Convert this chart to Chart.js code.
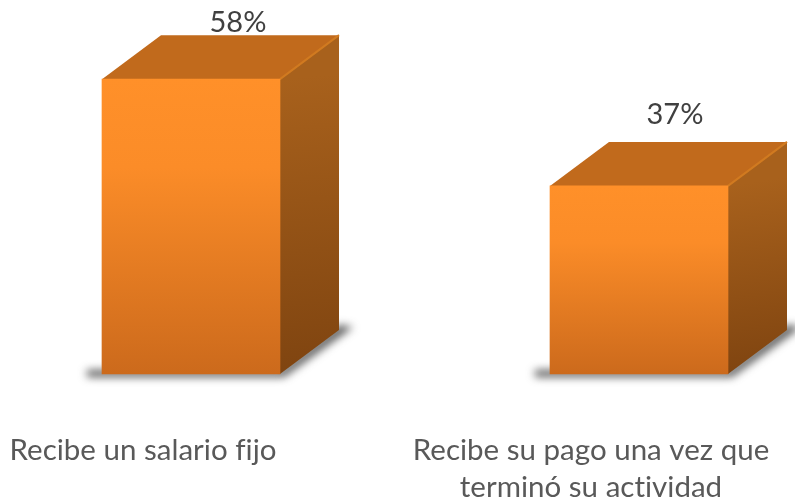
<!DOCTYPE html>
<html>
<head>
<meta charset="utf-8">
<script src="https://cdn.jsdelivr.net/npm/chart.js@4/dist/chart.umd.min.js"></script>
<style>
  html, body { margin: 0; padding: 0; background: #fff; }
  #wrap { width: 795px; height: 502px; }
</style>
</head>
<body>
<div id="wrap"><canvas id="myChart" width="795" height="502"></canvas></div>
<script>
const categories = [
  'Recibe un salario fijo',
  ['Recibe su pago una vez que', 'terminó su actividad'],
];
const percentages = [58, 37];
const percentLabels = ['58%', '37%'];

// look of the fake 3d box
const depthX = 59;
const depthY = -44;
const labelShift = [[47, -3], [36, -18]];

function frontGradient(context) {
  const area = context.chart.chartArea;
  if (!area || context.dataIndex === undefined) return '#ff9029';
  const top = context.chart.scales.y.getPixelForValue(percentages[context.dataIndex]);
  const g = context.chart.ctx.createLinearGradient(0, top, 0, area.bottom);
  g.addColorStop(0, '#ff9029');
  g.addColorStop(0.3, '#fb8c28');
  g.addColorStop(1, '#cc6a1c');
  return g;
}

const box3d = {
  id: 'box3d',
  beforeDraw(chart) {
    // letter spacing switches off the fi ligature
    chart.ctx.letterSpacing = '0.01px';
  },
  beforeDatasetsDraw(chart) {
    const ctx = chart.ctx;
    chart.getDatasetMeta(0).data.forEach(bar => {
      const left = bar.x - bar.width / 2;
      const right = bar.x + bar.width / 2;
      const top = bar.y;
      const bottom = bar.base;

      // shadow on the floor
      ctx.save();
      ctx.filter = 'blur(4px)';
      ctx.fillStyle = 'rgba(60,60,60,0.85)';
      ctx.beginPath();
      ctx.moveTo(left - 15, bottom - 4);
      ctx.lineTo(right, bottom - 4);
      ctx.lineTo(right + depthX, bottom + depthY - 5);
      ctx.lineTo(right + depthX + 14, bottom + depthY - 3);
      ctx.lineTo(right + 4, bottom + 3);
      ctx.lineTo(left - 15, bottom + 3);
      ctx.closePath();
      ctx.fill();
      ctx.restore();

      // top face
      ctx.fillStyle = '#c16a1c';
      ctx.beginPath();
      ctx.moveTo(left, top);
      ctx.lineTo(left + depthX, top + depthY);
      ctx.lineTo(right + depthX, top + depthY);
      ctx.lineTo(right, top);
      ctx.closePath();
      ctx.fill();

      // side face
      const side = ctx.createLinearGradient(right, top, right + depthX * 0.5, bottom);
      side.addColorStop(0, '#a8611c');
      side.addColorStop(1, '#7f4410');
      ctx.fillStyle = side;
      ctx.beginPath();
      ctx.moveTo(right, top);
      ctx.lineTo(right + depthX, top + depthY);
      ctx.lineTo(right + depthX, bottom + depthY);
      ctx.lineTo(right, bottom);
      ctx.closePath();
      ctx.fill();

      // light edge between top and side
      ctx.strokeStyle = '#d17a20';
      ctx.lineWidth = 2;
      ctx.beginPath();
      ctx.moveTo(right, top);
      ctx.lineTo(right + depthX, top + depthY);
      ctx.stroke();
    });
  },
  afterDatasetsDraw(chart) {
    const ctx = chart.ctx;
    ctx.save();
    ctx.font = '29px Lato';
    ctx.fillStyle = '#404040';
    ctx.textAlign = 'center';
    ctx.textBaseline = 'alphabetic';
    chart.getDatasetMeta(0).data.forEach((bar, i) => {
      const shift = labelShift[i];
      ctx.fillText(percentLabels[i], bar.x + shift[0], bar.y + depthY + shift[1]);
    });
    ctx.restore();
  },
};

new Chart(document.getElementById('myChart'), {
  type: 'bar',
  data: {
    labels: categories,
    datasets: [{
      data: percentages,
      backgroundColor: frontGradient,
      barThickness: 178,
      clip: false,
    }],
  },
  plugins: [box3d],
  options: {
    responsive: false,
    animation: false,
    layout: { padding: { left: 191, right: 156, top: 69, bottom: 0 } },
    plugins: { legend: { display: false }, tooltip: { enabled: false } },
    scales: {
      x: {
        offset: false,
        grid: { display: false },
        border: { display: false },
        afterFit(scale) {
          scale.height = 128;
          scale.paddingLeft = 0;
          scale.paddingRight = 0;
        },
        ticks: {
          autoSkip: false,
          maxRotation: 0,
          minRotation: 0,
          labelOffset: -48,
          padding: 50,
          color: '#595959',
          font: { family: 'Lato', size: 29.5, lineHeight: 1.254 },
        },
      },
      y: { display: false, min: 0, max: 60 },
    },
  },
});
</script>
</body>
</html>
